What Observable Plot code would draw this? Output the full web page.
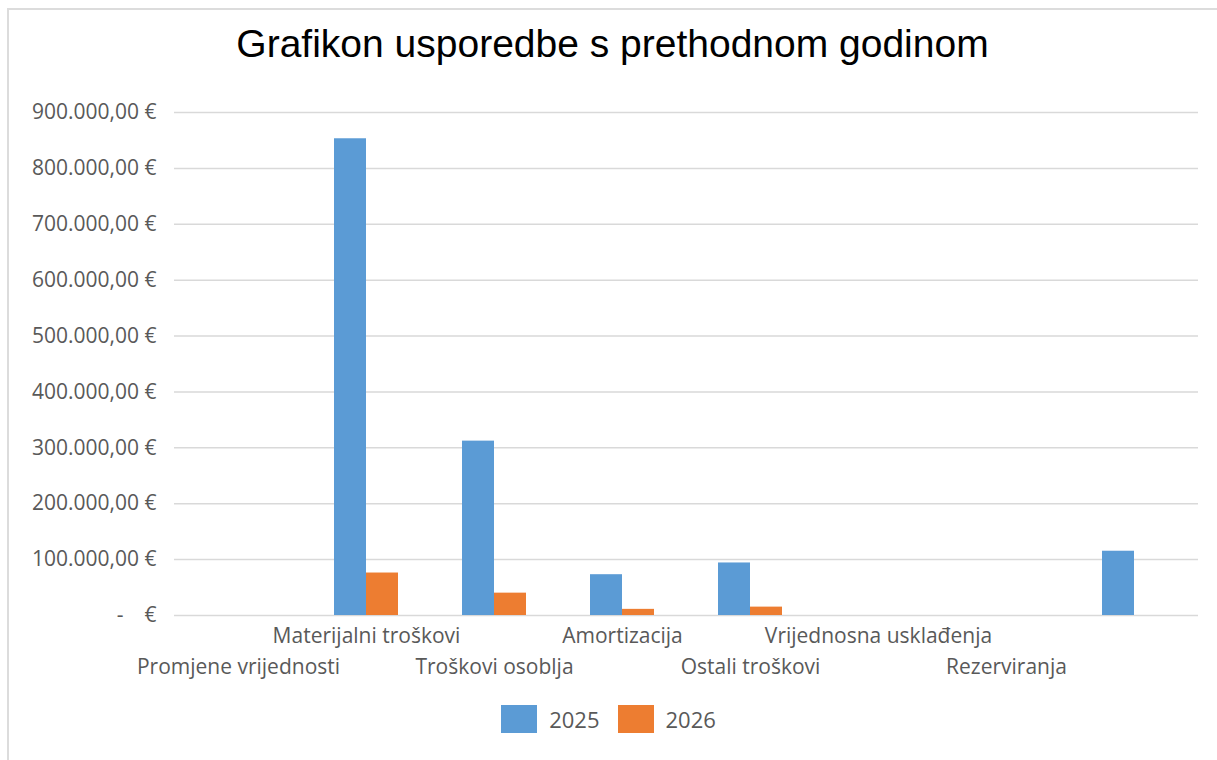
<!DOCTYPE html>
<html><head><meta charset="utf-8">
<script src="https://cdn.jsdelivr.net/npm/d3@7"></script>
<script src="https://cdn.jsdelivr.net/npm/@observablehq/plot@0.6"></script>
<style>
body{margin:0;background:#fff;}
#wrap{position:relative;width:1217px;height:760px;overflow:hidden;background:#fff;}
#frame{position:absolute;left:7px;top:8px;width:1240px;height:780px;border-left:2px solid #dcdcdc;border-top:2px solid #dcdcdc;}
#title{position:absolute;left:4px;width:1217px;top:24px;text-align:center;font-family:"Liberation Sans",Arial,sans-serif;font-size:39px;line-height:39px;color:#000;}
#chart{position:absolute;left:0;top:90px;}
#legend{position:absolute;top:705px;left:0;width:1217px;height:28px;display:flex;justify-content:center;align-items:center;font-family:"Open Sans",sans-serif;font-size:22px;color:#595959;}
.item{display:flex;align-items:center;margin:0 9px;}
.sw{width:36px;height:28px;margin-right:12px;}
</style></head>
<body>
<div id="wrap">
  <div id="frame"></div>
  <div id="title">Grafikon usporedbe s prethodnom godinom</div>
  <div id="chart"></div>
  <div id="legend"></div>
</div>
<script>
const categories = ["Promjene vrijednosti","Materijalni troškovi","Troškovi osoblja","Amortizacija","Ostali troškovi","Vrijednosna usklađenja","Rezerviranja",""];
const years = ["2025","2026"];
const values2025 = [0, 853000, 312000, 73000, 94000, 0, 0, 115000];
const values2026 = [0, 76000, 40000, 11000, 15000, 0, 0, 0];
const yTicks = [0,100000,200000,300000,400000,500000,600000,700000,800000,900000];
const colors = ["#5b9bd5","#ed7d31"];

const data = [];
categories.forEach((c,i) => {
  data.push({category:c, year:years[0], value:values2025[i]});
  data.push({category:c, year:years[1], value:values2026[i]});
});
const upperRow = categories.filter((c,i) => i % 2 === 1);
const lowerRow = categories.filter((c,i) => i % 2 === 0);

const fmt = d3.formatLocale({decimal:",", thousands:".", grouping:[3], currency:["", " €"]}).format("$,.2f");
const tickFmt = d => d === 0 ? "-\u2002\u2002€" : fmt(d);

const chart = Plot.plot({
  width:1217, height:600,
  marginTop:22, marginBottom:75, marginLeft:172, marginRight:17,
  style:{fontFamily:'"Open Sans", sans-serif', color:"#595959", background:"transparent"},
  fx:{domain:categories, padding:0, axis:null},
  x:{domain:years, paddingInner:0, paddingOuter:0.977, axis:null},
  y:{domain:[0,900000], axis:null},
  color:{domain:years, range:colors},
  marks:[
    Plot.gridY(yTicks, {stroke:"#d9d9d9", strokeOpacity:1, strokeWidth:1.5}),
    Plot.axisY({ticks:yTicks, tickSize:0, tickPadding:18, tickFormat:tickFmt, fontSize:21, label:null}),
    Plot.barY(data, {fx:"category", x:"year", y:"value", fill:"year"}),
    Plot.axisFx({anchor:"bottom", ticks:upperRow, tickSize:0, tickPadding:13, fontSize:21, label:null}),
    Plot.axisFx({anchor:"bottom", ticks:lowerRow, tickSize:0, tickPadding:44, fontSize:21, label:null})
  ]
});
document.getElementById("chart").appendChild(chart);

const legend = document.getElementById("legend");
years.forEach((y,i) => {
  const item = document.createElement("div");
  item.className = "item";
  const sw = document.createElement("div");
  sw.className = "sw";
  sw.style.background = colors[i];
  const t = document.createElement("span");
  t.textContent = y;
  item.appendChild(sw); item.appendChild(t);
  legend.appendChild(item);
});
</script>
</body></html>
